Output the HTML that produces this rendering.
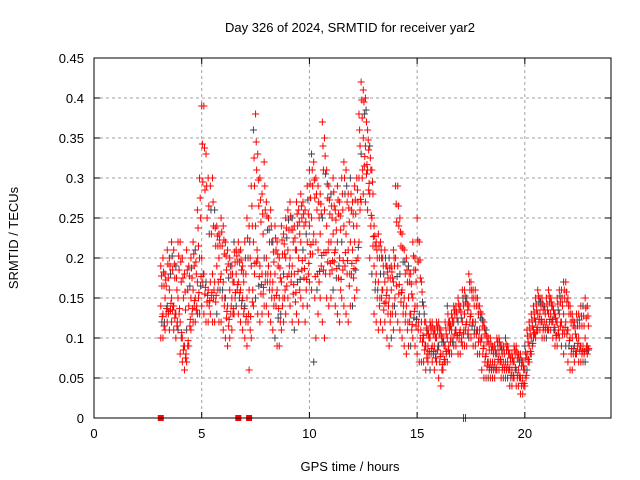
<!DOCTYPE html>
<html><head><meta charset="utf-8">
<style>
body{margin:0;background:#fff}
svg{display:block;font-family:"Liberation Sans",sans-serif}
</style></head>
<body>
<svg id="chart" width="640" height="480" viewBox="0 0 640 480">
<text x="350" y="32" font-size="13" text-anchor="middle">Day 326 of 2024, SRMTID for receiver yar2</text>
<text x="350" y="471" font-size="13" text-anchor="middle">GPS time / hours</text>
<text transform="translate(18,238) rotate(-90)" font-size="13" text-anchor="middle">SRMTID / TECUs</text>
<g id="grid"></g><g id="marks"></g><g id="axes"></g>
</svg>
<script>
const xTicks=[0,5,10,15,20];
const yTicks=[0,0.05,0.1,0.15,0.2,0.25,0.3,0.35,0.4,0.45];
const yTickLabels=["0","0.05","0.1","0.15","0.2","0.25","0.3","0.35","0.4","0.45"];
const startHour=3.1, stepHour=0.1;
const hiVals=[.19,.20,.18,.21,.20,.22,.21,.19,.22,
.22,.20,.18,.21,.19,.20,.22,.21,.26,.30,
.39,.39,.33,.30,.29,.30,.26,.24,.23,.25,
.24,.22,.21,.20,.19,.22,.21,.22,.21,.19,
.22,.25,.24,.29,.36,.38,.33,.30,.28,.32,
.27,.25,.26,.22,.24,.22,.20,.24,.23,.25,
.26,.27,.25,.24,.27,.26,.28,.27,.26,.29,
.31,.33,.32,.30,.29,.28,.37,.35,.31,.29,
.28,.30,.26,.29,.27,.30,.32,.31,.28,.30,
.27,.29,.30,.38,.42,.41,.40,.36,.34,.31,
.24,.22,.23,.22,.20,.21,.19,.20,.19,.21,
.29,.29,.25,.23,.21,.20,.19,.18,.22,.20,
.25,.22,.17,.14,.12,.11,.12,.12,.11,.12,
.12,.11,.10,.12,.14,.12,.13,.14,.14,.15,
.14,.16,.16,.15,.18,.17,.16,.16,.15,.14,
.13,.12,.11,.10,.10,.09,.09,.10,.10,.09,
.09,.10,.09,.08,.08,.09,.09,.08,.08,.07,
.09,.11,.12,.13,.14,.15,.16,.15,.15,.14,
.15,.16,.15,.14,.13,.15,.16,.16,.17,.17,
.15,.14,.13,.12,.13,.13,.14,.14,.15,.14];
const midVals=[.14,.13,.15,.14,.16,.15,.14,.13,.15,
.12,.10,.09,.11,.14,.15,.16,.15,.17,.20,
.20,.18,.17,.16,.17,.18,.17,.19,.20,.18,
.17,.15,.14,.16,.15,.17,.18,.17,.16,.15,
.14,.15,.16,.19,.22,.24,.20,.19,.18,.20,
.20,.19,.18,.17,.18,.16,.15,.17,.18,.20,
.21,.20,.19,.18,.21,.20,.22,.21,.20,.22,
.24,.25,.23,.22,.21,.23,.25,.26,.24,.22,
.22,.23,.21,.22,.20,.22,.24,.23,.21,.22,
.21,.22,.24,.30,.33,.35,.34,.31,.28,.25,
.19,.18,.17,.18,.16,.17,.16,.15,.16,.17,
.20,.19,.18,.16,.15,.14,.15,.13,.15,.14,
.14,.13,.12,.10,.09,.09,.10,.09,.09,.10,
.09,.08,.08,.09,.10,.11,.11,.12,.11,.12,
.11,.12,.13,.12,.14,.13,.12,.12,.11,.11,
.10,.09,.08,.07,.07,.07,.07,.08,.08,.07,
.07,.07,.07,.06,.06,.07,.06,.06,.05,.05,
.06,.08,.09,.10,.11,.12,.13,.13,.12,.12,
.12,.13,.13,.12,.11,.12,.13,.12,.13,.12,
.11,.10,.10,.09,.10,.10,.09,.09,.10,.09];
const loVals=[.10,.10,.11,.12,.11,.12,.11,.10,.11,
.08,.07,.06,.07,.09,.11,.12,.12,.13,.13,
.14,.13,.12,.12,.13,.12,.12,.13,.12,.12,
.11,.10,.09,.10,.11,.13,.14,.13,.12,.11,
.10,.09,.06,.10,.14,.15,.13,.12,.13,.14,
.14,.13,.12,.11,.10,.09,.09,.11,.12,.13,
.15,.14,.12,.11,.13,.12,.15,.14,.12,.14,
.17,.16,.07,.10,.13,.15,.12,.10,.15,.14,
.15,.16,.14,.13,.12,.15,.14,.13,.12,.14,
.14,.15,.16,.22,.27,.28,.27,.26,.20,.18,
.13,.12,.11,.12,.11,.12,.10,.09,.10,.11,
.13,.12,.11,.10,.09,.08,.09,.09,.10,.09,
.08,.07,.07,.07,.06,.07,.06,.07,.06,.07,
.05,.04,.06,.07,.07,.08,.08,.09,.09,.08,
.08,.09,.09,.09,.10,.10,.09,.09,.08,.08,
.06,.05,.05,.05,.05,.05,.05,.06,.06,.05,
.05,.05,.05,.04,.04,.05,.04,.04,.03,.03,
.04,.06,.07,.08,.10,.10,.11,.11,.10,.10,
.10,.11,.11,.10,.09,.09,.10,.09,.08,.09,
.07,.06,.06,.07,.08,.07,.07,.07,.07,.08];
const zeroHours=[3.1,6.7,7.2];
const NS="http://www.w3.org/2000/svg";
const L=94,R=611,T=58,B=418,XMAX=24,YMAX=0.45;
const xs=v=>L+(R-L)*v/XMAX;
const ys=v=>B-(B-T)*v/YMAX;
function mk(tag,attrs,parent){const e=document.createElementNS(NS,tag);for(const k in attrs)e.setAttribute(k,attrs[k]);parent.appendChild(e);return e;}
const grid=document.getElementById('grid'),marks=document.getElementById('marks'),axes=document.getElementById('axes');
xTicks.forEach(v=>{
 if(v>0){const g=mk('line',{x1:xs(v),x2:xs(v),y1:T,y2:B,stroke:'#a0a0a0','stroke-dasharray':'3,3'},grid);
 
 }
 const t=mk('line',{x1:xs(v),x2:xs(v),y1:B,y2:B-6,stroke:'#000'},axes);
 
 
 const t2=mk('line',{x1:xs(v),x2:xs(v),y1:T,y2:T+6,stroke:'#000'},axes);
 
 
 const lb=mk('text',{x:xs(v),y:B+20,'font-size':13,'text-anchor':'middle'},axes);lb.textContent=v;
 
 
});
yTicks.forEach((v,i)=>{
 if(v>0&&v<YMAX){const g=mk('line',{x1:L,x2:R,y1:ys(v),y2:ys(v),stroke:'#a0a0a0','stroke-dasharray':'3,3'},grid);
 
 }
 const t=mk('line',{x1:L,x2:L+6,y1:ys(v),y2:ys(v),stroke:'#000'},axes);
 
 
 const t2=mk('line',{x1:R-6,x2:R,y1:ys(v),y2:ys(v),stroke:'#000'},axes);
 
 
 const lb=mk('text',{x:L-10,y:ys(v)+5,'font-size':13,'text-anchor':'end'},axes);lb.textContent=yTickLabels[i];
 
 
});
const fr=mk('rect',{x:L,y:T,width:R-L,height:B-T,fill:'none',stroke:'#000'},axes);


let n=0;
function plus(h,v){
 const x=xs(h),y=ys(v);const c=(n++%9===4)?'#404050':'#ff0000';
 const p=mk('path',{d:`M${x-3.5},${y}h7M${x},${y-3.5}v7`,stroke:c,'stroke-width':1,fill:'none'},marks);
 
 
}
hiVals.forEach((hv,i)=>{
 const h=startHour+i*stepHour;
 plus(h,hv);plus(h,midVals[i]);plus(h,loVals[i]);
 plus(h+0.05,(hv+midVals[i])/2);plus(h+0.05,(midVals[i]+loVals[i])/2);
 plus(h+0.03,(hv*3+midVals[i])/4);plus(h+0.07,(midVals[i]*2+loVals[i])/3);
});
zeroHours.forEach(h=>{
 const r=mk('rect',{x:xs(h)-3,y:B-3,width:6,height:6,fill:'#ff0000'},marks);
 
 
});
const zm=mk('path',{d:`M${xs(17.2)-1},${B-4}v8M${xs(17.2)+1},${B-4}v8`,stroke:'#ff0000'},marks);


</script>
</body></html>
